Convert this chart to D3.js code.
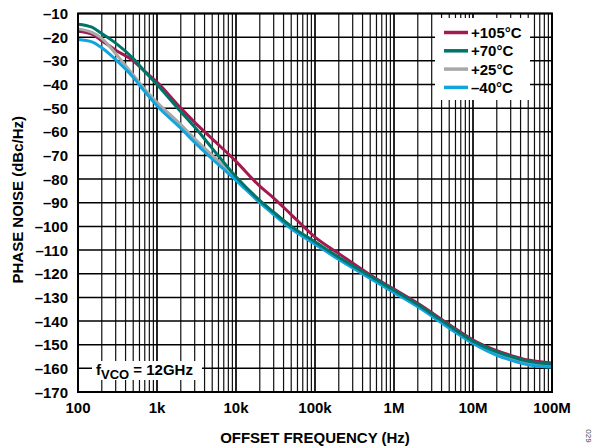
<!DOCTYPE html>
<html><head><meta charset="utf-8">
<script src="https://cdn.jsdelivr.net/npm/d3@7"></script>
<style>body{margin:0;background:#fff}svg{display:block}</style>
</head><body>
<script>
const freqs = [100,150,200,300,500,700,1e3,2e3,3e3,5e3,1e4,2e4,3e4,5e4,1e5,2e5,5e5,1e6,2e6,5e6,1e7,2e7,3e7,5e7,1e8];
const pn105 = [-17.5,-18.7,-21.5,-25.5,-30,-34.5,-39,-50,-56,-63,-72.5,-83,-88,-95,-104.5,-111.5,-120.5,-126.5,-132.5,-141.5,-148,-152.5,-154.5,-156.5,-157.7];
const pn70  = [-14.5,-15.8,-18.5,-22.5,-29,-34.5,-40,-51.5,-58,-67,-79,-89,-94,-100,-106.5,-113,-121,-127,-133,-142,-148.5,-153,-155,-157,-158.2];
const pn25  = [-16.5,-18,-20.5,-27,-36,-42,-47.5,-57,-63,-70,-79.5,-89.5,-94.5,-100.5,-107,-113.5,-121.5,-127.5,-133.5,-142.5,-149,-153.5,-155.5,-157.5,-158.5];
const pnM40 = [-21,-22,-24.5,-29.5,-37,-43,-49,-58.5,-64.5,-71.5,-80.5,-90,-95,-101,-107.5,-114,-122,-128,-134,-143,-149.5,-154.5,-156.5,-158.5,-159.5];
const seriesNames = ["+105°C","+70°C","+25°C","–40°C"];
const seriesColors = ["#a31a4e","#007468","#a8a8a8","#12a5dd"];
const xTickVals = [1e2,1e3,1e4,1e5,1e6,1e7,1e8];
const xTickLabels = ["100","1k","10k","100k","1M","10M","100M"];
const yTickVals = d3.range(-10,-171,-10);

const W=595,H=448;
const m={l:78,r:552,t:13.5,b:392};
const svg=d3.select("body").append("svg").attr("width",W).attr("height",H);
const x=d3.scaleLog().domain([100,1e8]).range([m.l,m.r]);
const y=d3.scaleLinear().domain([-10,-170]).range([m.t,m.b]);
const font="Arial, 'Liberation Sans', Helvetica, sans-serif";
const fs=15;

// grid
const g=svg.append("g");
const minor=[];
for(let d=100; d<1e8; d*=10) for(let k=2;k<=9;k++) minor.push(d*k);
g.selectAll(".vmin").data(minor).enter().append("line")
 .attr("x1",d=>x(d)).attr("x2",d=>x(d)).attr("y1",m.t).attr("y2",m.b)
 .attr("stroke","#111").attr("stroke-width",1.2);
g.selectAll(".vmaj").data(xTickVals).enter().append("line")
 .attr("x1",d=>x(d)).attr("x2",d=>x(d)).attr("y1",m.t).attr("y2",m.b)
 .attr("stroke","#000").attr("stroke-width",1.7);
g.selectAll(".h").data(yTickVals).enter().append("line")
 .attr("x1",m.l).attr("x2",m.r).attr("y1",d=>y(d)).attr("y2",d=>y(d))
 .attr("stroke","#000").attr("stroke-width",1.5);

// curves
const all=[pn105,pn70,pn25,pnM40];
const line=d3.line().x((d,i)=>x(freqs[i])).y(d=>y(d)).curve(d3.curveMonotoneX);
const order=[0,2,3,1];
order.forEach(s=>{
  svg.append("path").attr("d",line(all[s])).attr("fill","none")
   .attr("stroke",seriesColors[s]).attr("stroke-width",3).attr("stroke-linejoin","round");
});

// frame
svg.append("rect").attr("x",m.l).attr("y",m.t).attr("width",m.r-m.l).attr("height",m.b-m.t)
 .attr("fill","none").attr("stroke","#000").attr("stroke-width",2);

// legend
const lg=svg.append("g");
lg.append("rect").attr("x",435).attr("y",18).attr("width",95).attr("height",82).attr("fill","#fff");
seriesNames.forEach((n,i)=>{
  const yy=32.5+i*18.3;
  lg.append("line").attr("x1",444).attr("x2",468).attr("y1",yy).attr("y2",yy)
    .attr("stroke",seriesColors[i]).attr("stroke-width",3.5);
  lg.append("text").attr("x",471).attr("y",yy+5.5).text(n)
    .attr("font-family",font).attr("font-weight","bold").attr("font-size",fs).attr("fill","#000");
});

// fVCO annotation
svg.append("rect").attr("x",92).attr("y",361).attr("width",110).attr("height",19).attr("fill","#fff");
const ft=svg.append("text").attr("x",96).attr("y",375)
 .attr("font-family",font).attr("font-weight","bold").attr("font-size",fs).attr("fill","#000");
ft.append("tspan").text("f");
ft.append("tspan").attr("dy",4).attr("font-size",13).text("VCO");
ft.append("tspan").attr("dy",-4).text(" = 12GHz");

// y tick labels
svg.selectAll(".yl").data(yTickVals).enter().append("text")
 .attr("x",68).attr("y",d=>y(d)+5.5).attr("text-anchor","end")
 .attr("font-family",font).attr("font-weight","bold").attr("font-size",fs)
 .text(d=>"–"+Math.abs(d));
// x tick labels
svg.selectAll(".xl").data(xTickVals).enter().append("text")
 .attr("x",d=>x(d)).attr("y",413).attr("text-anchor","middle")
 .attr("font-family",font).attr("font-weight","bold").attr("font-size",fs)
 .text((d,i)=>xTickLabels[i]);
// titles
svg.append("text").attr("x",(m.l+m.r)/2).attr("y",443).attr("text-anchor","middle")
 .attr("font-family",font).attr("font-weight","bold").attr("font-size",fs)
 .text("OFFSET FREQUENCY (Hz)");
svg.append("text").attr("transform",`translate(23,${(m.t+m.b)/2-3}) rotate(-90)`)
 .attr("text-anchor","middle")
 .attr("font-family",font).attr("font-weight","bold").attr("font-size",fs)
 .text("PHASE NOISE (dBc/Hz)");
svg.append("text").attr("transform","translate(586,436) rotate(90)")
 .attr("text-anchor","middle").attr("font-family",font).attr("font-size",8).attr("fill","#444")
 .text("029");
</script>
</body></html>
